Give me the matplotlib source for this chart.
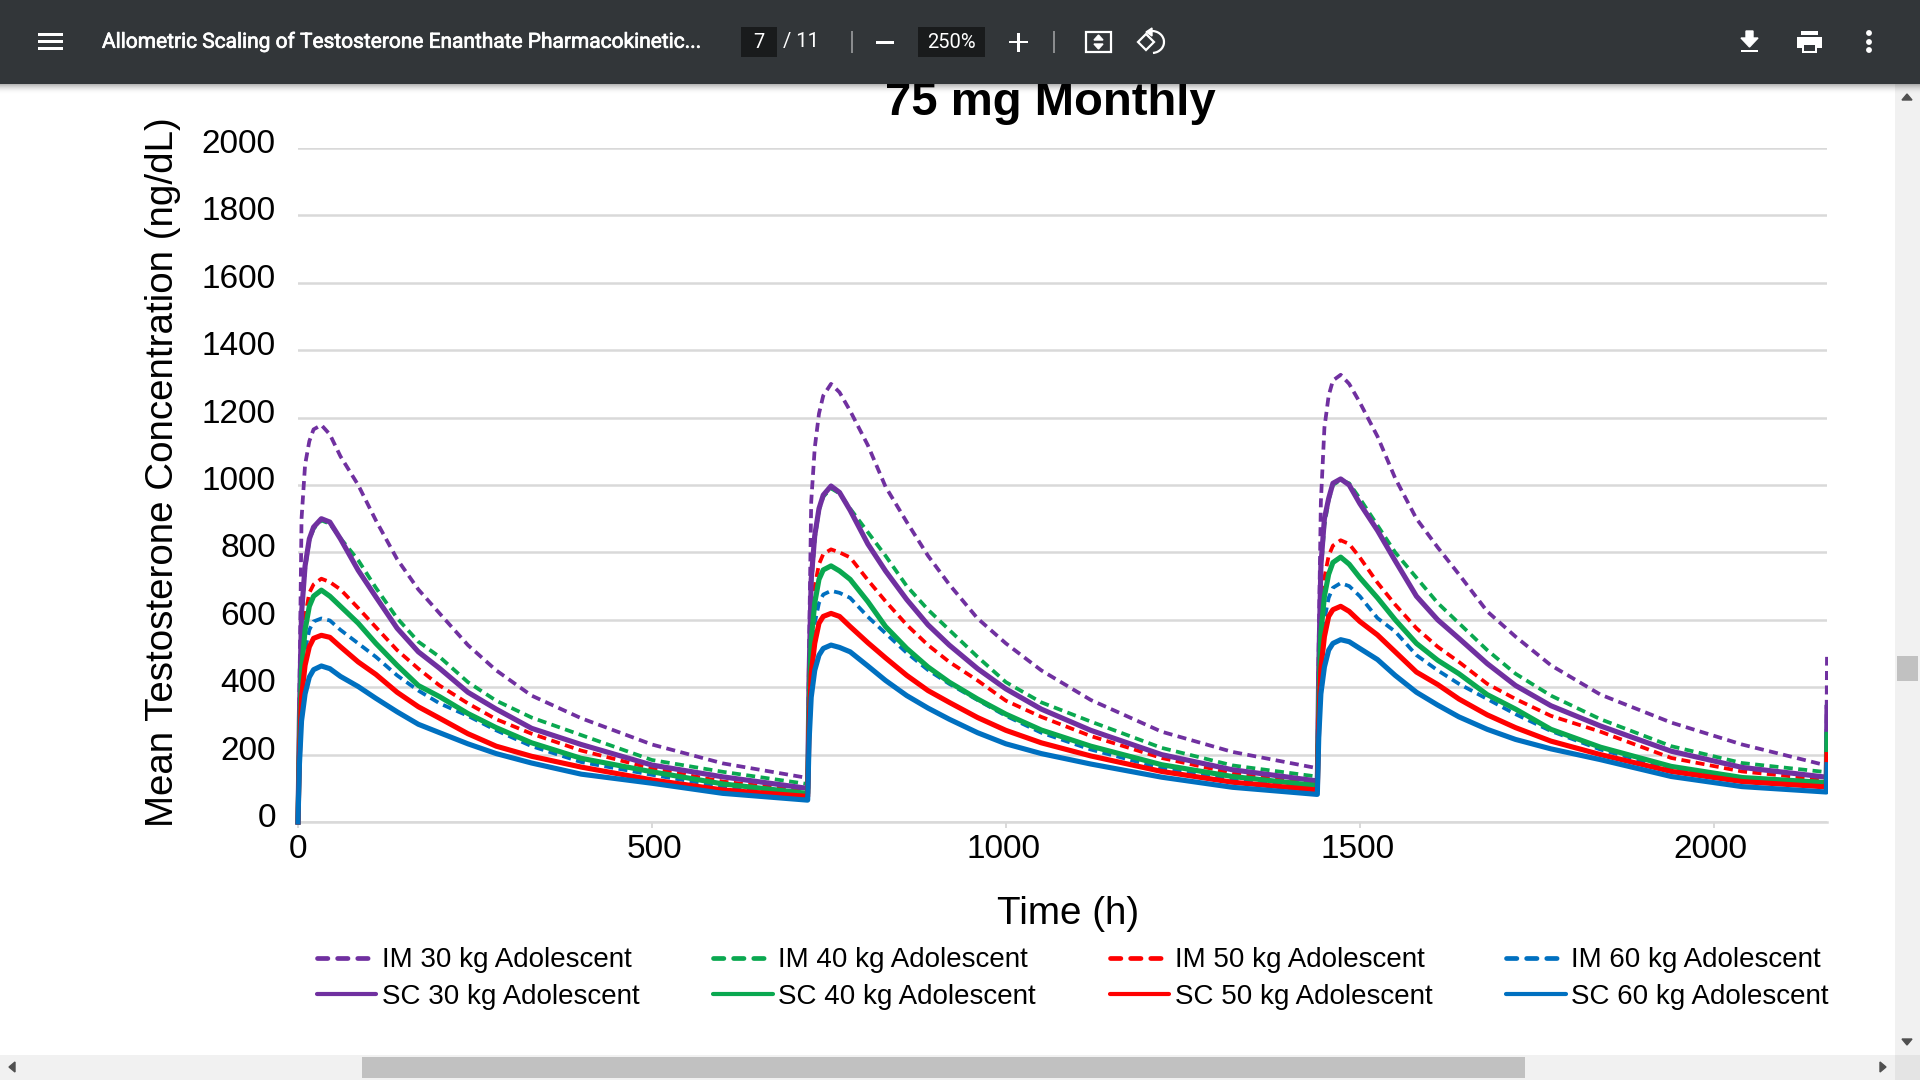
# -*- coding: utf-8 -*-
"""75 mg monthly testosterone profiles, as seen in the PDF viewer window."""
import matplotlib
matplotlib.use("Agg")
import matplotlib.pyplot as plt
import matplotlib.patheffects as pe
from matplotlib.lines import Line2D
from matplotlib.patches import Rectangle, Polygon, Circle, Arc
from matplotlib.transforms import Bbox, ScaledTranslation

plt.rcParams["font.family"] = ["Liberation Sans", "DejaVu Sans"]
W, H = 1920, 1080
PURPLE, GREEN, RED, BLUE = "#7030a0", "#0aa850", "#ff0000", "#0070c0"
BAR, WHITE = "#323639", "#f1f1f1"

time_h = [0, 2, 5, 10, 16, 22, 33, 45, 60, 85, 110, 140, 170, 200, 240, 280, 330, 400, 500, 600, 719,
          720, 722, 725, 730, 736, 742, 753, 765, 780, 805, 830, 860, 890, 920, 960, 1000, 1050, 1120, 1220, 1320, 1439,
          1440, 1442, 1445, 1450, 1456, 1462, 1473, 1485, 1500, 1525, 1550, 1580, 1610, 1640, 1680, 1720, 1770, 1840, 1940, 2040, 2159,
          2160]

im30 = [0, 380, 900, 1060, 1130, 1165, 1178, 1150, 1085, 1000, 895, 780, 690, 619, 525, 450, 375, 308, 230, 174, 131,
        131, 520, 950, 1110, 1212, 1265, 1300, 1275, 1220, 1118, 995, 890, 790, 705, 604, 530, 450, 362, 268, 208, 160,
        160, 540, 950, 1170, 1265, 1310, 1327, 1300, 1245, 1144, 1020, 900, 815, 735, 625, 550, 465, 378, 295, 230, 168,
        490]
im40 = [0, 300, 600, 750, 835, 870, 895, 885, 842, 777, 695, 605, 535, 490, 415, 360, 310, 258, 184, 149, 113,
        113, 420, 700, 840, 925, 965, 990, 975, 930, 860, 790, 700, 630, 570, 490, 415, 355, 298, 220, 168, 135,
        135, 450, 740, 880, 955, 1000, 1015, 1005, 960, 880, 800, 725, 650, 590, 510, 440, 375, 305, 225, 175, 148,
        350]
im50 = [0, 270, 500, 610, 680, 705, 722, 712, 690, 635, 578, 510, 455, 405, 352, 305, 262, 212, 159, 120, 92,
        92, 350, 590, 700, 765, 795, 809, 800, 785, 718, 655, 585, 525, 475, 420, 360, 312, 255, 190, 145, 115,
        115, 370, 610, 725, 790, 820, 836, 825, 785, 710, 645, 575, 520, 475, 410, 365, 315, 268, 190, 150, 125,
        300]
im60 = [0, 220, 410, 510, 570, 595, 604, 598, 570, 530, 490, 435, 390, 352, 315, 272, 225, 178, 140, 105, 82,
        82, 300, 490, 590, 650, 675, 686, 680, 665, 609, 560, 502, 451, 410, 362, 315, 265, 215, 160, 125, 102,
        102, 315, 505, 600, 665, 695, 709, 700, 670, 605, 565, 495, 450, 410, 365, 320, 270, 215, 158, 125, 110,
        240]
sc30 = [0, 310, 619, 760, 840, 875, 900, 890, 840, 747, 668, 575, 505, 456, 385, 335, 278, 230, 169, 134, 100,
        100, 430, 720, 850, 930, 970, 997, 978, 925, 825, 745, 660, 585, 525, 455, 395, 335, 272, 200, 155, 122,
        122, 450, 760, 900, 960, 1005, 1018, 1000, 945, 865, 775, 670, 600, 545, 470, 405, 345, 285, 210, 162, 133,
        340]
sc40 = [0, 240, 450, 570, 640, 670, 688, 670, 640, 590, 530, 465, 405, 372, 322, 280, 235, 189, 149, 113, 85,
        85, 330, 540, 650, 720, 748, 760, 745, 720, 654, 580, 515, 460, 415, 365, 320, 273, 225, 170, 135, 108,
        108, 345, 560, 670, 735, 770, 786, 765, 725, 665, 600, 530, 480, 440, 378, 335, 275, 222, 165, 132, 117,
        260]
sc50 = [0, 200, 370, 465, 520, 545, 554, 548, 520, 475, 438, 385, 342, 308, 262, 225, 195, 163, 125, 95, 76,
        76, 280, 440, 530, 590, 610, 619, 610, 580, 532, 487, 435, 390, 355, 310, 272, 235, 196, 150, 118, 95,
        95, 295, 455, 550, 610, 630, 640, 625, 595, 555, 505, 445, 408, 365, 318, 280, 240, 200, 150, 120, 104,
        200]
sc60 = [0, 170, 300, 380, 430, 452, 463, 455, 432, 402, 367, 327, 290, 265, 232, 203, 175, 142, 115, 85, 65,
        65, 240, 370, 450, 495, 515, 525, 518, 505, 463, 420, 375, 338, 305, 265, 232, 203, 172, 133, 103, 82,
        82, 250, 380, 460, 510, 530, 541, 535, 515, 482, 435, 385, 347, 312, 275, 245, 217, 185, 135, 105, 89,
        170]

im_series = [(im30, "IM 30 kg Adolescent", PURPLE), (im40, "IM 40 kg Adolescent", GREEN),
             (im50, "IM 50 kg Adolescent", RED), (im60, "IM 60 kg Adolescent", BLUE)]
sc_series = [(sc30, "SC 30 kg Adolescent", PURPLE), (sc40, "SC 40 kg Adolescent", GREEN),
             (sc50, "SC 50 kg Adolescent", RED), (sc60, "SC 60 kg Adolescent", BLUE)]

fig = plt.figure(figsize=(W/100, H/100), dpi=100, facecolor="white")
ax = fig.add_axes([298/W, (H-822)/H, 1529/W, 674/H])

# chart: lines are cut at the right edge only, which leaves the last rise a hairline
DASH = (0, (2.4, 1.45))
CUT = Bbox([[295, 0], [1828, H]])
for vals, name, col in im_series:
    ax.plot(time_h, vals, color=col, lw=2.7, ls=DASH, label=name, zorder=3)[0].set_clip_box(CUT)
for vals, name, col in sc_series:
    ax.plot(time_h, vals, color=col, lw=3.7, label=name, zorder=4)[0].set_clip_box(CUT)

ax.set_xlim(0, 2160)
ax.set_ylim(0, 2000)
ax.set_xticks([0, 500, 1000, 1500, 2000])
ax.set_yticks(range(0, 2001, 200))
ax.grid(axis="y", color="#d9d9d9", lw=1.8)
ax.set_axisbelow(True)
ax.spines[["top", "right", "left"]].set_visible(False)
ax.spines["bottom"].set_color("#d9d9d9")
ax.spines["bottom"].set_linewidth(1.8)
ax.tick_params(axis="x", length=4, width=1.4, color="#d9d9d9", labelsize=24, pad=5)
ax.tick_params(axis="y", length=0, labelsize=24, pad=16)
for lab in ax.get_yticklabels():
    lab.set_transform(lab.get_transform() + ScaledTranslation(0, 7/100, fig.dpi_scale_trans))
for lab, nudge in zip(ax.get_xticklabels(), [0, 2.5, -2.5, -2.5, -3.5]):
    lab.set_transform(lab.get_transform() + ScaledTranslation(nudge/100, 0, fig.dpi_scale_trans))

ax.text(1050/W, (H-115)/H, "75 mg Monthly", transform=fig.transFigure, ha="center", va="baseline",
        fontsize=34, fontweight="bold")
ax.text(1068/W, (H-914)/H, "Time (h)", transform=fig.transFigure, ha="center", va="center", fontsize=27.8)
ax.text(163/W, (H-472)/H, "Mean Testosterone Concentration (ng/dL)", transform=fig.transFigure,
        rotation=90, ha="center", va="center", fontsize=27.7)
ax.text(88/W, (H-78)/H, "g", transform=fig.transFigure, ha="center", fontsize=16, fontweight="bold")

handles, labels = [], []
for im, sc in zip(im_series, sc_series):
    handles += [Line2D([], [], color=im[2], lw=3.4, ls=(0, (2.2, 2.06)), dash_capstyle="round"),
                Line2D([], [], color=sc[2], lw=3.0, solid_capstyle="round")]
    labels += [im[1], sc[1]]
ax.legend(handles, labels, ncols=4, frameon=False, fontsize=20, loc="lower left",
          bbox_to_anchor=(316.5/W, (H-1010)/H), bbox_transform=fig.transFigure, borderpad=0, borderaxespad=0,
          handlelength=2.15, handletextpad=0.2, columnspacing=2.65, labelspacing=0.38)

# viewer window drawn on top, in screen pixels
ui = fig.add_axes([0, 0, 1, 1], zorder=10)
ui.set_xlim(0, W)
ui.set_ylim(H, 0)
ui.axis("off")
ui.patch.set_alpha(0)


def box(x0, y0, x1, y1, col, **kw):
    ui.add_patch(Rectangle((x0, y0), x1-x0, y1-y0, facecolor=col, edgecolor="none", **kw))


def label(x, y, s, size=14.5, ha="left", heavy=False):
    t = ui.text(x, y, s, color="white", family="Roboto", fontsize=size, ha=ha, va="center")
    if heavy:
        t.set_path_effects([pe.withStroke(linewidth=0.5, foreground="white")])


# scrollbars
box(1895, 84, W, H, WHITE)
box(0, 1055, W, H, WHITE)
box(1897, 656, 1918, 681, "#c1c1c1")
box(362, 1057, 1525, 1078, "#c1c1c1")
box(1895, 1055, W, H, "#e4e4e4")
ui.add_patch(Polygon([(1902, 100), (1912, 100), (1907, 94)], color="#505050"))
ui.add_patch(Polygon([(1902, 1039), (1912, 1039), (1907, 1045)], color="#505050"))
ui.add_patch(Polygon([(15, 1062), (15, 1072), (9, 1067)], color="#505050"))
ui.add_patch(Polygon([(1880, 1062), (1880, 1072), (1886, 1067)], color="#505050"))

# toolbar and its shadow
for i in range(10):
    box(0, 84+i, W, 85+i, "black", alpha=0.28*(1-i/10)**2)
box(0, 0, W, 84, BAR)
for y in (33, 40, 47):
    box(38, y, 63, y+3.4, "white")
label(102, 42, "Allometric Scaling of Testosterone Enanthate Pharmacokinetic...", size=15.05, heavy=True)
box(741, 27, 777, 57, "#191b1c")
label(759, 42, "7", ha="center")
label(783, 42, "/ 11")
box(851, 31, 852.5, 53, "#8a8c8e")
box(876, 41, 894, 43.5, "white")
box(918, 27, 985, 57, "#191b1c")
label(951.5, 42, "250%", ha="center")
box(1009, 41, 1028, 43.2, "white")
box(1017.4, 32.5, 1019.6, 51.5, "white")
box(1053, 31, 1054.5, 53, "#8a8c8e")

# fit-to-page and rotate icons
ui.add_patch(Rectangle((1086, 32), 25, 20, facecolor="none", edgecolor="white", lw=1.6))
ui.add_patch(Polygon([(1094, 40), (1103, 40), (1098.5, 35)], color="white"))
ui.add_patch(Polygon([(1094, 44), (1103, 44), (1098.5, 49)], color="white"))
ui.add_patch(Polygon([(1146, 34), (1154, 42), (1146, 50), (1138, 42)], facecolor="none", edgecolor="white", lw=1.6))
ui.add_patch(Arc((1152, 42), 24, 22, theta1=-110, theta2=85, color="white", lw=1.6))
ui.add_patch(Polygon([(1152, 28), (1152, 36), (1146, 32)], color="white"))

# download, print, more
ui.add_patch(Polygon([(1746, 31), (1753, 31), (1753, 38), (1758, 38), (1749.5, 47), (1741, 38), (1746, 38)], color="white"))
box(1741, 49.5, 1758, 52, "white")
box(1801, 31, 1818, 35, "white")
box(1797, 37, 1822, 48, "white")
box(1802, 44, 1817, 53, "white")
box(1804, 45, 1815, 51, BAR)
for y in (33, 42, 50):
    ui.add_patch(Circle((1869, y), 2.2, color="white"))

fig.savefig("out.png", dpi=100)
